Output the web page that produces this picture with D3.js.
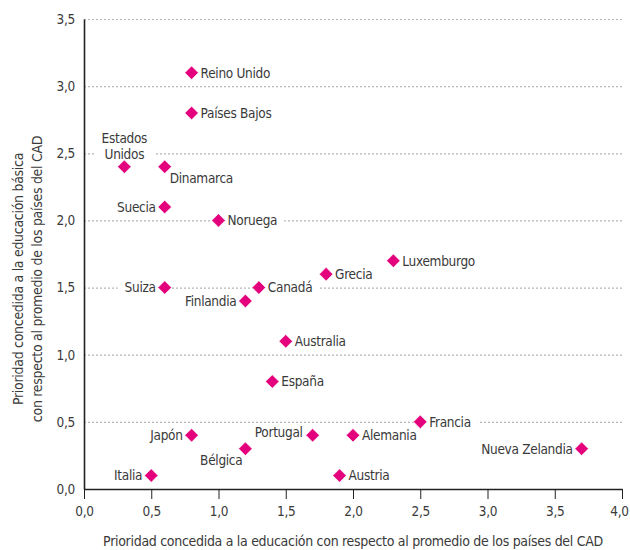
<!DOCTYPE html>
<html>
<head>
<meta charset="utf-8">
<script src="https://cdn.jsdelivr.net/npm/d3@7"></script>
<style>
  body { margin: 0; background: #fff; }
  svg text { font-family: "Liberation Sans Narrow", "DejaVu Sans Condensed", "Roboto Condensed", sans-serif; font-stretch: condensed; fill: #3a3a3a; letter-spacing: -0.3px; }
  .grid line { stroke: #b5b5b5; stroke-width: 1.2; stroke-dasharray: 2,2; }
  .grid .domain { display: none; }
  .axis .domain { stroke: #222; stroke-width: 1.6; }
  .axis line { stroke: #222; stroke-width: 1; }
</style>
</head>
<body>
<script>
var countries = ["Reino Unido","Países Bajos","Estados Unidos","Dinamarca","Suecia","Noruega","Luxemburgo","Grecia","Suiza","Canadá","Finlandia","Australia","España","Francia","Japón","Portugal","Alemania","Nueva Zelandia","Bélgica","Italia","Austria"];
var xValues = [0.8, 0.8, 0.3, 0.6, 0.6, 1.0, 2.3, 1.8, 0.6, 1.3, 1.2, 1.5, 1.4, 2.5, 0.8, 1.7, 2.0, 3.7, 1.2, 0.5, 1.9];
var yValues = [3.1, 2.8, 2.4, 2.4, 2.1, 2.0, 1.7, 1.6, 1.5, 1.5, 1.4, 1.1, 0.8, 0.5, 0.4, 0.4, 0.4, 0.3, 0.3, 0.1, 0.1];
// where each label sits relative to its marker
var labelPos = ["r","r","t","rb","l","r","r","r","l","r","l","r","r","r","l","lt","r","l","lb","l","r"];
var xTicks = [0, 0.5, 1, 1.5, 2, 2.5, 3, 3.5, 4];
var yTicks = [0, 0.5, 1, 1.5, 2, 2.5, 3, 3.5];
var xTitle = "Prioridad concedida a la educación con respecto al promedio de los países del CAD";
var yTitle = ["Prioridad concedida a la educación básica", "con respecto al promedio de los países del CAD"];

var W = 630, H = 550;
var margin = {top: 19, right: 8, bottom: 61, left: 84},
    width = W - margin.left - margin.right,
    height = H - margin.top - margin.bottom;

var fmt = function(d){ return d3.format(".1f")(d).replace(".", ","); };

var x = d3.scaleLinear().domain([0, 4]).range([0, width]);
var y = d3.scaleLinear().domain([0, 3.5]).range([height, 0]);

var svg = d3.select("body").append("svg")
    .attr("width", W)
    .attr("height", H)
  .append("g")
    .attr("transform", "translate(" + margin.left + "," + margin.top + ")");

// dotted horizontal grid
svg.append("g")
    .attr("class", "grid")
    .call(d3.axisLeft(y).tickValues(yTicks.slice(1)).tickSize(-width).tickFormat(""));

var labelLayer = svg.append("g");

svg.append("g")
    .attr("class", "axis")
    .attr("transform", "translate(0," + height + ")")
    .call(d3.axisBottom(x).tickValues(xTicks).tickSize(10).tickSizeOuter(0).tickFormat(fmt))
    .call(function(g){
      g.selectAll("text").attr("dy", "1.05em").style("font-size", "13.5px");
      g.selectAll("text").filter(function(d){ return d === 4; }).attr("dx", "-3");
    });

svg.append("g")
    .attr("class", "axis")
    .call(d3.axisLeft(y).tickValues(yTicks).tickSize(0).tickPadding(9).tickFormat(fmt))
    .call(function(g){ g.selectAll("text").style("font-size", "13.5px"); });

svg.append("text")
    .attr("x", 353 - margin.left)
    .attr("y", 546 - margin.top)
    .attr("text-anchor", "middle")
    .style("font-size", "14px")
    .text(xTitle);

svg.append("g")
    .attr("transform", "translate(" + (23 - margin.left) + "," + (279 - margin.top) + ") rotate(-90)")
  .selectAll("text")
  .data(yTitle)
  .join("text")
    .attr("y", function(d, i){ return i * 18.5; })
    .attr("text-anchor", "middle")
    .style("font-size", "14px")
    .text(function(d){ return d; });

var pts = countries.map(function(c, i){
  return {name: c, x: xValues[i], y: yValues[i], pos: labelPos[i]};
});

// labels with white boxes that knock out the grid
var lab = labelLayer.selectAll("g.lab")
  .data(pts)
  .join("g")
    .attr("class", "lab")
    .attr("transform", function(d){ return "translate(" + x(d.x) + "," + y(d.y) + ")"; });

lab.each(function(d){
  var g = d3.select(this);
  var t = g.append("text").style("font-size", "13.5px");
  var lines = d.pos === "t" ? ["Estados", "Unidos"] : [d.name];
  var dx = 0, dy = 0, anchor = "start";
  if (d.pos === "r") { dx = 9; dy = 0; }
  if (d.pos === "rb") { dx = 5; dy = 11; }
  if (d.pos === "l") { dx = -9; dy = 0; anchor = "end"; }
  if (d.pos === "lt") { dx = -10; dy = -3; anchor = "end"; }
  if (d.pos === "lb") { dx = -3; dy = 11; anchor = "end"; }
  if (d.pos === "t") { dx = 0; dy = -29; anchor = "middle"; }
  t.attr("text-anchor", anchor);
  lines.forEach(function(l, i){
    t.append("tspan").attr("x", dx).attr("y", dy + i * 16).attr("dy", "0.36em").text(l);
  });
  var b = t.node().getBBox();
  g.insert("rect", "text")
    .attr("x", b.x - 7).attr("y", b.y)
    .attr("width", b.width + 14).attr("height", b.height)
    .attr("fill", "#fff");
});

svg.append("g")
  .selectAll("path")
  .data(pts)
  .join("path")
    .attr("d", d3.symbol().type(d3.symbolSquare).size(92))
    .attr("transform", function(d){ return "translate(" + x(d.x) + "," + y(d.y) + ") rotate(45)"; })
    .attr("fill", "#e4007c")
    .attr("stroke", "#fff")
    .attr("stroke-width", 0.6);
</script>
</body>
</html>
